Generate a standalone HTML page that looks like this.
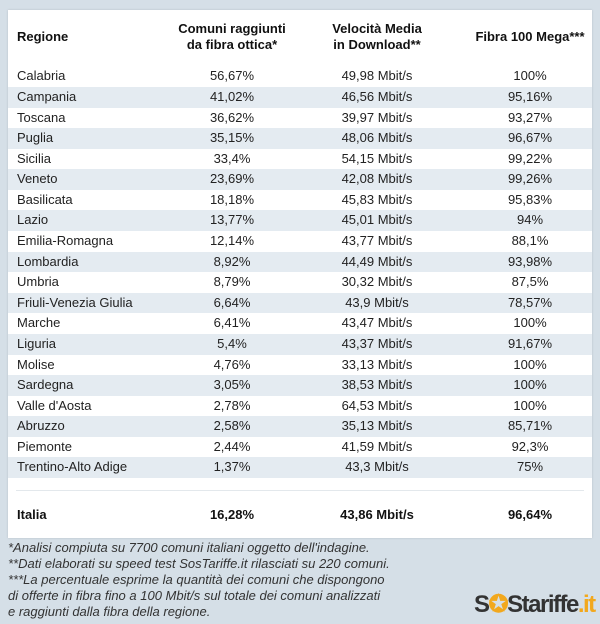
<!DOCTYPE html>
<html><head><meta charset="utf-8"><style>
body{margin:0;width:600px;height:624px;background:#d5dfe7;font-family:"Liberation Sans",sans-serif;position:relative;overflow:hidden;color:#222}
#panel{position:absolute;left:8px;top:10px;width:584px;height:528px;background:#fff;box-shadow:0 0 2px rgba(0,0,0,.15)}
.h{position:absolute;font-weight:bold;font-size:13px;text-align:center;line-height:16px;color:#111}
.row{position:absolute;left:0;width:584px;height:20.6px;font-size:13px;line-height:20.6px}
.row.alt{background:#e4ebf1}
.row span{position:absolute;top:0}
.c1{left:9px}
.c2{left:174px;width:100px;text-align:center}
.c3{left:319px;width:100px;text-align:center}
.c4{left:472px;width:100px;text-align:center}
#sep{position:absolute;left:8px;right:8px;top:480px;height:1px;background:#e3e8ec}
#notes{position:absolute;left:8px;top:540px;font-style:italic;font-size:13px;line-height:16px;color:#333}
#logo{position:absolute;left:474px;top:590px;font-weight:bold;font-size:24px;letter-spacing:-1.5px;color:#333}
</style></head><body>
<div id="panel">
<div class="h" style="left:9px;top:19px;text-align:left">Regione</div>
<div class="h" style="left:144px;top:11px;width:160px">Comuni raggiunti<br>da fibra ottica*</div>
<div class="h" style="left:289px;top:11px;width:160px">Velocità Media<br>in Download**</div>
<div class="h" style="left:442px;top:19px;width:160px">Fibra 100 Mega***</div>
<div id="rows"></div>
<div id="sep"></div>
<div class="row" style="top:495px;font-weight:bold;color:#111"><span class="c1">Italia</span><span class="c2">16,28%</span><span class="c3">43,86 Mbit/s</span><span class="c4">96,64%</span></div>
</div>
<div id="notes">*Analisi compiuta su 7700 comuni italiani oggetto dell'indagine.<br>**Dati elaborati su speed test SosTariffe.it rilasciati su 220 comuni.<br>***La percentuale esprime la quantità dei comuni che dispongono<br>di offerte in fibra fino a 100 Mbit/s sul totale dei comuni analizzati<br>e raggiunti dalla fibra della regione.</div>
<div id="logo">S<span style="color:#f2a81d">✪</span>Stariffe<span style="color:#f2a81d">.it</span></div>
<script>
const regions=["Calabria","Campania","Toscana","Puglia","Sicilia","Veneto","Basilicata","Lazio","Emilia-Romagna","Lombardia","Umbria","Friuli-Venezia Giulia","Marche","Liguria","Molise","Sardegna","Valle d'Aosta","Abruzzo","Piemonte","Trentino-Alto Adige"];
const comuni=["56,67%","41,02%","36,62%","35,15%","33,4%","23,69%","18,18%","13,77%","12,14%","8,92%","8,79%","6,64%","6,41%","5,4%","4,76%","3,05%","2,78%","2,58%","2,44%","1,37%"];
const velocita=["49,98 Mbit/s","46,56 Mbit/s","39,97 Mbit/s","48,06 Mbit/s","54,15 Mbit/s","42,08 Mbit/s","45,83 Mbit/s","45,01 Mbit/s","43,77 Mbit/s","44,49 Mbit/s","30,32 Mbit/s","43,9 Mbit/s","43,47 Mbit/s","43,37 Mbit/s","33,13 Mbit/s","38,53 Mbit/s","64,53 Mbit/s","35,13 Mbit/s","41,59 Mbit/s","43,3 Mbit/s"];
const fibra100=["100%","95,16%","93,27%","96,67%","99,22%","99,26%","95,83%","94%","88,1%","93,98%","87,5%","78,57%","100%","91,67%","100%","100%","100%","85,71%","92,3%","75%"];
const box=document.getElementById('rows');
regions.forEach((r,i)=>{
const d=document.createElement('div');
d.className='row'+(i%2?' alt':'');
d.style.top=(56.4+20.58*i)+'px';


[[r,'c1'],[comuni[i],'c2'],[velocita[i],'c3'],[fibra100[i],'c4']].forEach(([t,c])=>{
const s=document.createElement('span');s.className=c;s.textContent=t;


d.appendChild(s);});
box.appendChild(d);});
</script>
</body></html>
